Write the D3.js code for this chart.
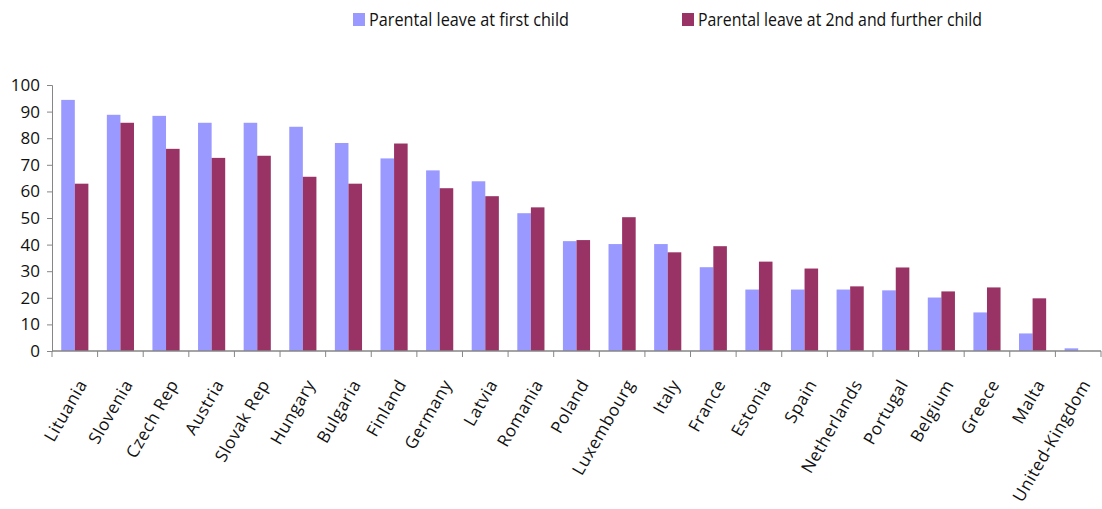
<!DOCTYPE html>
<html>
<head>
<meta charset="utf-8">
<script src="https://cdn.jsdelivr.net/npm/d3@7"></script>
<style>
  body { margin: 0; background: #fff; }
  text { font-family: "Open Sans", sans-serif; fill: #111; }
</style>
</head>
<body>
<svg id="chart" width="1102" height="509"></svg>
<script>
// categories and series
const countries = ["Lituania", "Slovenia", "Czech Rep", "Austria", "Slovak Rep", "Hungary",
  "Bulgaria", "Finland", "Germany", "Latvia", "Romania", "Poland", "Luxembourg", "Italy",
  "France", "Estonia", "Spain", "Netherlands", "Portugal", "Belgium", "Greece", "Malta",
  "United-Kingdom"];
const firstChild = [94.4, 88.8, 88.4, 85.8, 85.8, 84.3, 78.2, 72.4, 67.9, 63.8, 51.8, 41.3,
  40.2, 40.2, 31.5, 23.1, 23.1, 23.1, 22.8, 20.1, 14.5, 6.6, 1.0];
const furtherChild = [62.9, 85.8, 76.0, 72.6, 73.4, 65.5, 62.9, 78.0, 61.2, 58.2, 54.0, 41.7,
  50.3, 37.1, 39.4, 33.6, 31.0, 24.3, 31.4, 22.4, 23.9, 19.8, 0];
const seriesNames = ["Parental leave at first child", "Parental leave at 2nd and further child"];
const yTicks = [0, 10, 20, 30, 40, 50, 60, 70, 80, 90, 100];

const colors = ["#9999FF", "#993366"];
const axisColor = "#868686";

const svg = d3.select("#chart");
const plotL = 52, plotR = 1101, plotT = 85, plotB = 351;

const x = d3.scaleBand()
  .domain(countries)
  .range([plotL, plotR])
  .paddingInner(0)
  .paddingOuter(0);

// two bars side by side, with a gap on each side of the pair
const xs = d3.scaleBand()
  .domain([0, 1])
  .range([0, x.bandwidth()])
  .paddingInner(0)
  .paddingOuter(0.68);

const y = d3.scaleLinear().domain([0, 100]).range([plotB, plotT]);

// bars
const rows = countries.map((c, i) => ({ c, vals: [firstChild[i], furtherChild[i]] }));
const groups = svg.append("g").selectAll("g")
  .data(rows)
  .join("g")
  .attr("transform", d => `translate(${x(d.c)},0)`);

groups.selectAll("rect")
  .data(d => d.vals.map((v, k) => ({ v, k })))
  .join("rect")
  .attr("x", d => xs(d.k))
  .attr("width", xs.bandwidth())
  .attr("y", d => y(d.v))
  .attr("height", d => y(0) - y(d.v))
  .attr("fill", d => colors[d.k]);

// y axis
const yAxis = svg.append("g")
  .attr("transform", `translate(${plotL},0)`)
  .call(d3.axisLeft(y).tickValues(yTicks).tickSize(5).tickPadding(7));
yAxis.select(".domain").attr("stroke", axisColor);
yAxis.selectAll(".tick line").attr("stroke", axisColor);
yAxis.selectAll(".tick text")
  .style("font-family", "'Open Sans', sans-serif")
  .style("font-size", "17px")
  .attr("fill", "#111");

// x axis: baseline + ticks at band edges
svg.append("line")
  .attr("x1", plotL).attr("x2", plotR)
  .attr("y1", y(0)).attr("y2", y(0))
  .attr("stroke", axisColor).attr("stroke-width", 1.5);

const edges = countries.map(c => x(c)).concat([x(countries[countries.length - 1]) + x.bandwidth()]);
svg.append("g").selectAll("line")
  .data(edges)
  .join("line")
  .attr("x1", d => d).attr("x2", d => d)
  .attr("y1", y(0)).attr("y2", y(0) + 6)
  .attr("stroke", axisColor);

// rotated category labels
svg.append("g").selectAll("text")
  .data(countries)
  .join("text")
  .attr("transform", d => `translate(${x(d) + x.bandwidth() / 2 + 13},${y(0) + 33}) rotate(-60)`)
  .attr("text-anchor", "end")
  .style("font-size", "17px")
  .style("letter-spacing", "0.6px")
  .text(d => d);

// legend
const legendX = [353, 682];
const legendW = [200, 284];
const legend = svg.append("g").selectAll("g")
  .data(seriesNames)
  .join("g")
  .attr("transform", (d, i) => `translate(${legendX[i]},13)`);
legend.append("rect")
  .attr("width", 12).attr("height", 13)
  .attr("fill", (d, i) => colors[i]);
legend.append("text")
  .attr("x", 16)
  .attr("y", 13)
  .attr("textLength", (d, i) => legendW[i])
  .attr("lengthAdjust", "spacingAndGlyphs")
  .style("font-size", "18px")
  .text(d => d);
</script>
</body>
</html>
